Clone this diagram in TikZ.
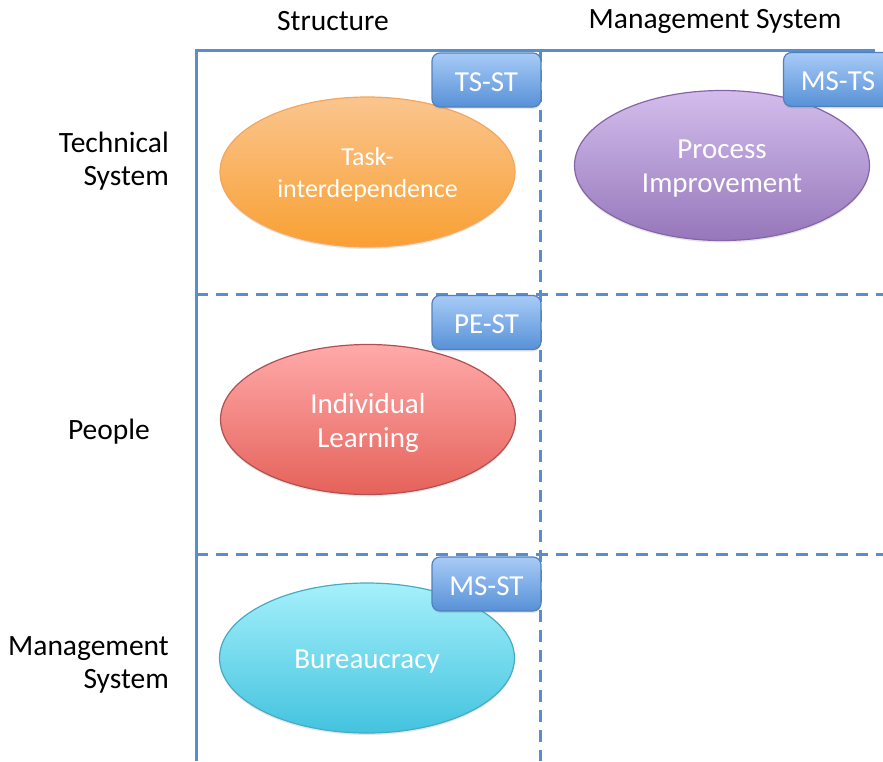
\documentclass[tikz,border=0pt]{standalone}
\usepackage{fontspec}
\setmainfont{Carlito}
\usetikzlibrary{shapes.geometric,shadows}
\definecolor{gridblue}{HTML}{5B8DCA}
\definecolor{tagtop}{HTML}{A8CBF7}
\definecolor{tagbot}{HTML}{5791D7}
\definecolor{tagline}{HTML}{4F81BD}
\definecolor{ortop}{HTML}{FAC58E}
\definecolor{orbot}{HTML}{F9A033}
\definecolor{orline}{HTML}{F5A65B}
\definecolor{putop}{HTML}{D3BDEC}
\definecolor{pubot}{HTML}{9677BB}
\definecolor{puline}{HTML}{8466A8}
\definecolor{retop}{HTML}{FFAAAA}
\definecolor{rebot}{HTML}{E5625A}
\definecolor{reline}{HTML}{B05050}
\definecolor{cytop}{HTML}{A5F0FB}
\definecolor{cybot}{HTML}{43C3DF}
\definecolor{cyline}{HTML}{46ABC4}
\tikzset{
  x=1pt, y=-1pt,
  gridsolid/.style={draw=gridblue, line width=3pt},
  griddash/.style={draw=gridblue, line width=3pt, dash pattern=on 12pt off 8pt},
  oval/.style={ellipse, minimum width=295pt, minimum height=150pt, inner sep=0pt,
    line width=1.2pt,
    drop shadow={opacity=0.2, shadow xshift=0pt, shadow yshift=-2pt}},
  ovaltext/.style={align=center, text=white, inner sep=0pt, font=\fontsize{29}{34}\selectfont},
  tag/.style={rectangle, rounded corners=8pt, minimum width=109pt, minimum height=54pt,
    inner sep=0pt, top color=tagtop, bottom color=tagbot, draw=tagline, line width=1.2pt,
    drop shadow={opacity=0.2, shadow xshift=0pt, shadow yshift=-2pt}},
  tagtext/.style={text=white, inner sep=0pt, font=\fontsize{29}{34}\selectfont},
  lbl/.style={text=black, font=\fontsize{29.5}{33}\selectfont, inner sep=0pt}
}
\begin{document}
\begin{tikzpicture}
\useasboundingbox (0,0) rectangle (883,761);
% grid
\coordinate (tl) at (196,50);
\coordinate (tr) at (875,50);
\coordinate (bl) at (196,761);
\coordinate (vt) at (540,50);
\coordinate (vb) at (540,761);
\coordinate (h1l) at (196,294);
\coordinate (h1r) at (883,294);
\coordinate (h2l) at (196,554);
\coordinate (h2r) at (883,554);
\draw[griddash] (vt) -- (vb);
\draw[griddash] (h1l) -- (h1r);
\draw[griddash] (h2l) -- (h2r);
\draw[gridsolid] (bl) -- (tl) -- (tr);
% headers
\node[lbl] (hst) at (333,21) {Structure};
\node[lbl] (hms) at (715,21) {Management System};
\node[lbl, anchor=east, align=right] (rts) at (169,161) {Technical\\System};
\node[lbl] (rpe) at (109,432) {People};
\node[lbl, anchor=east, align=right] (rms) at (169,665) {Management\\System};
% ellipses
\node[oval, top color=ortop, bottom color=orbot, draw=orline] (task) at (367.5,172) {};
\node[ovaltext, font=\fontsize{26}{32}\selectfont] (taskt) at (367.5,175) {Task-\\interdependence};
\node[oval, top color=putop, bottom color=pubot, draw=puline] (proc) at (722,165.5) {};
\node[ovaltext] (proct) at (722,169) {Process\\Improvement};
\node[oval, top color=retop, bottom color=rebot, draw=reline] (indl) at (368,419.5) {};
\node[ovaltext] (indlt) at (368,423) {Individual\\Learning};
\node[oval, top color=cytop, bottom color=cybot, draw=cyline] (bur) at (367,658) {};
\node[ovaltext] (burt) at (367,662) {Bureaucracy};
% tags
\node[tag] (tsst) at (486.5,80) {};
\node[tagtext] (tsstt) at (486.5,82) {TS-ST};
\node[tag] (msts) at (838,79.5) {};
\node[tagtext] (mstst) at (838,81.5) {MS-TS};
\node[tag] (pest) at (486.5,322.5) {};
\node[tagtext] (pestt) at (486.5,324.5) {PE-ST};
\node[tag] (msst) at (486.5,584) {};
\node[tagtext] (msstt) at (486.5,586) {MS-ST};
\end{tikzpicture}
\end{document}
